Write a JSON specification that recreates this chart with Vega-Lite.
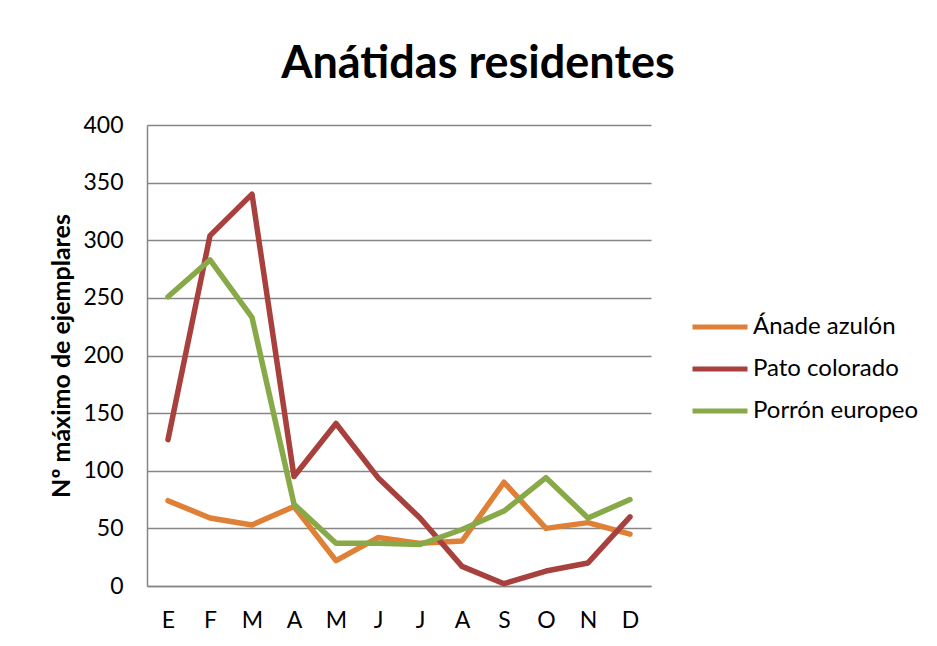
{
  "$schema": "https://vega.github.io/schema/vega-lite/v6.json",
  "autosize": "none",
  "width": 504,
  "height": 461,
  "padding": {"left": 147, "top": 125, "right": 286, "bottom": 60},
  "background": "white",
  "title": {
    "text": "Anátidas residentes",
    "font": "Lato",
    "fontSize": 45,
    "fontWeight": "bold",
    "color": "#000000",
    "anchor": "middle",
    "frame": "group",
    "dx": 79,
    "baseline": "alphabetic",
    "offset": -9
  },
  "config": {
    "view": {"stroke": null},
    "font": "Lato"
  },
  "data": {
    "values": [
      {"n": 1, "mes": "E", "especie": "Ánade azulón", "valor": 74},
      {"n": 2, "mes": "F", "especie": "Ánade azulón", "valor": 59},
      {"n": 3, "mes": "M", "especie": "Ánade azulón", "valor": 53},
      {"n": 4, "mes": "A", "especie": "Ánade azulón", "valor": 69},
      {"n": 5, "mes": "M", "especie": "Ánade azulón", "valor": 22},
      {"n": 6, "mes": "J", "especie": "Ánade azulón", "valor": 42},
      {"n": 7, "mes": "J", "especie": "Ánade azulón", "valor": 37},
      {"n": 8, "mes": "A", "especie": "Ánade azulón", "valor": 39},
      {"n": 9, "mes": "S", "especie": "Ánade azulón", "valor": 90},
      {"n": 10, "mes": "O", "especie": "Ánade azulón", "valor": 50},
      {"n": 11, "mes": "N", "especie": "Ánade azulón", "valor": 55},
      {"n": 12, "mes": "D", "especie": "Ánade azulón", "valor": 45},
      {"n": 1, "mes": "E", "especie": "Pato colorado", "valor": 127},
      {"n": 2, "mes": "F", "especie": "Pato colorado", "valor": 304},
      {"n": 3, "mes": "M", "especie": "Pato colorado", "valor": 340},
      {"n": 4, "mes": "A", "especie": "Pato colorado", "valor": 95},
      {"n": 5, "mes": "M", "especie": "Pato colorado", "valor": 141},
      {"n": 6, "mes": "J", "especie": "Pato colorado", "valor": 94},
      {"n": 7, "mes": "J", "especie": "Pato colorado", "valor": 59},
      {"n": 8, "mes": "A", "especie": "Pato colorado", "valor": 17},
      {"n": 9, "mes": "S", "especie": "Pato colorado", "valor": 2},
      {"n": 10, "mes": "O", "especie": "Pato colorado", "valor": 13},
      {"n": 11, "mes": "N", "especie": "Pato colorado", "valor": 20},
      {"n": 12, "mes": "D", "especie": "Pato colorado", "valor": 60},
      {"n": 1, "mes": "E", "especie": "Porrón europeo", "valor": 251},
      {"n": 2, "mes": "F", "especie": "Porrón europeo", "valor": 283},
      {"n": 3, "mes": "M", "especie": "Porrón europeo", "valor": 233},
      {"n": 4, "mes": "A", "especie": "Porrón europeo", "valor": 71},
      {"n": 5, "mes": "M", "especie": "Porrón europeo", "valor": 37},
      {"n": 6, "mes": "J", "especie": "Porrón europeo", "valor": 37},
      {"n": 7, "mes": "J", "especie": "Porrón europeo", "valor": 36},
      {"n": 8, "mes": "A", "especie": "Porrón europeo", "valor": 49},
      {"n": 9, "mes": "S", "especie": "Porrón europeo", "valor": 65},
      {"n": 10, "mes": "O", "especie": "Porrón europeo", "valor": 94},
      {"n": 11, "mes": "N", "especie": "Porrón europeo", "valor": 59},
      {"n": 12, "mes": "D", "especie": "Porrón europeo", "valor": 75}
    ]
  },
  "mark": {"type": "line", "strokeWidth": 5.5, "strokeCap": "round", "strokeJoin": "round"},
  "encoding": {
    "x": {
      "field": "n",
      "type": "ordinal",
      "scale": {"type": "point", "padding": 0.5},
      "axis": {
        "title": null,
        "labelAngle": 0,
        "labelExpr": "substring('EFMAMJJASOND', datum.value - 1, datum.value)",
        "labelFont": "Lato",
        "labelFontSize": 23,
        "labelColor": "#000000",
        "labelPadding": 23,
        "ticks": false,
        "grid": false,
        "domainColor": "#868686",
        "domainWidth": 1.5
      }
    },
    "y": {
      "field": "valor",
      "type": "quantitative",
      "scale": {"domain": [0, 400], "nice": false},
      "axis": {
        "title": "Nº máximo de ejemplares",
        "titleFont": "Lato",
        "titleFontSize": 25,
        "titleFontWeight": "bold",
        "titleColor": "#000000",
        "titlePadding": 8,
        "values": [0, 50, 100, 150, 200, 250, 300, 350, 400],
        "labelFont": "Lato",
        "labelFontSize": 23,
        "labelColor": "#000000",
        "labelPadding": 24,
        "ticks": false,
        "grid": true,
        "gridColor": "#868686",
        "gridWidth": 1.5,
        "domainColor": "#868686",
        "domainWidth": 1.5
      }
    },
    "color": {
      "field": "especie",
      "type": "nominal",
      "scale": {
        "domain": ["Ánade azulón", "Pato colorado", "Porrón europeo"],
        "range": ["#E07F36", "#A8413D", "#88A948"]
      },
      "legend": {
        "title": null,
        "orient": "none",
        "legendX": 543,
        "legendY": 172,
        "padding": 0,
        "symbolType": "stroke",
        "symbolSize": 3025,
        "symbolStrokeWidth": 5,
        "rowPadding": -1,
        "labelOffset": 3,
        "labelFont": "Lato",
        "labelFontSize": 24,
        "labelColor": "#000000",
        "labelLimit": 300
      }
    }
  }
}
